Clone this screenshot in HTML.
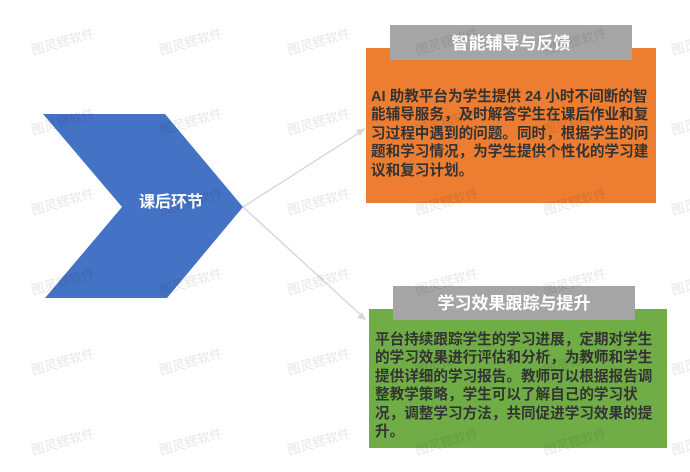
<!DOCTYPE html>
<html><head><meta charset="utf-8"><style>
html,body{margin:0;padding:0;background:#fff;}
body{width:690px;height:472px;overflow:hidden;position:relative;font-family:"Liberation Sans","Noto Sans CJK SC",sans-serif;}
.box{position:absolute;box-sizing:border-box;}
.txt{position:absolute;font-weight:bold;font-size:14.6px;line-height:18.4px;color:#333;white-space:nowrap;}
.hdr{position:absolute;background:#a5a5a5;color:#fff;font-weight:bold;font-size:17px;text-align:center;}
</style></head><body>
<svg width="690" height="472" style="position:absolute;left:0;top:0">
<polygon points="43,114 165,114 243,207 167,298 45,298 122,207" fill="#4472c4"/>
<text x="171" y="207" fill="#fff" font-size="16" font-weight="bold" text-anchor="middle" font-family="Liberation Sans,Noto Sans CJK SC,sans-serif">课后环节</text>
<line x1="243" y1="207" x2="362" y2="131" stroke="#d9d9d9" stroke-width="1.5"/>
<polygon points="366,128 356,130 360,136" fill="#d9d9d9"/>
<line x1="243" y1="207" x2="362" y2="316" stroke="#d9d9d9" stroke-width="1.5"/>
<polygon points="366,320 357,318 362,312" fill="#d9d9d9"/>
</svg>
<div class="box" style="left:366px;top:48px;width:290px;height:155px;background:#ed7d31"></div>
<div class="hdr" style="left:390px;top:25px;width:242px;height:35px;line-height:37px">智能辅导与反馈</div>
<div class="txt" style="left:371px;top:88px">AI 助教平台为学生提供 24 小时不间断的智<br>能辅导服务，及时解答学生在课后作业和复<br>习过程中遇到的问题。同时，根据学生的问<br>题和学习情况，为学生提供个性化的学习建<br>议和复习计划。</div>
<div class="box" style="left:369px;top:309px;width:298px;height:139px;background:#70ad47"></div>
<div class="hdr" style="left:393px;top:286px;width:242px;height:34px;line-height:36px">学习效果跟踪与提升</div>
<div class="txt" style="left:375px;top:331px">平台持续跟踪学生的学习进展，定期对学生<br>的学习效果进行评估和分析，为教师和学生<br>提供详细的学习报告。教师可以根据报告调<br>整教学策略，学生可以了解自己的学习状<br>况，调整学习方法，共同促进学习效果的提<br>升。</div>
<svg width="690" height="472" style="position:absolute;left:0;top:0" font-family="Liberation Sans,Noto Sans CJK SC,sans-serif" font-size="13" fill="#000" fill-opacity="0.1">
<g id="r">
<text transform="translate(33,55) rotate(-16)">图灵锶软件</text>
<text transform="translate(161,55) rotate(-16)">图灵锶软件</text>
<text transform="translate(289,55) rotate(-16)">图灵锶软件</text>
<text transform="translate(417,55) rotate(-16)">图灵锶软件</text>
<text transform="translate(545,55) rotate(-16)">图灵锶软件</text>
<text transform="translate(673,55) rotate(-16)">图灵锶软件</text>
</g>
<use href="#r" y="80"/><use href="#r" y="160"/><use href="#r" y="240"/><use href="#r" y="320"/><use href="#r" y="400"/>
</svg>
</body></html>
